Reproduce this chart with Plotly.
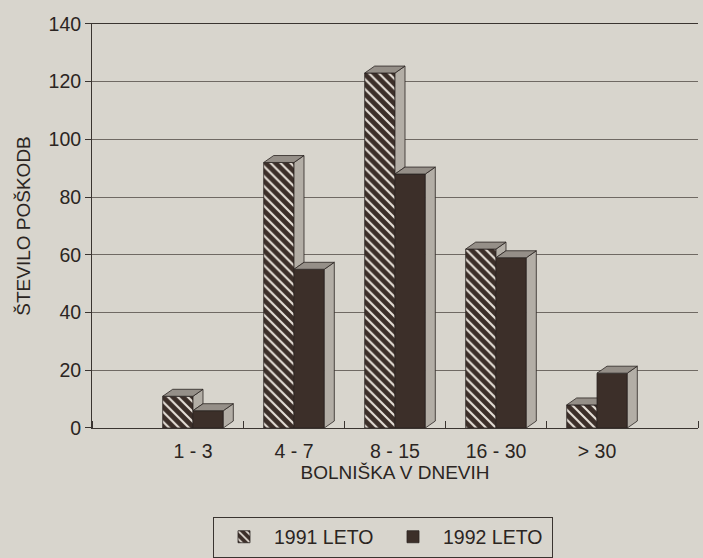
import plotly.graph_objects as go

# ---- data ----
categories = ["1 - 3", "4 - 7", "8 - 15", "16 - 30", "> 30"]
leto_1991 = [11, 92, 123, 62, 8]
leto_1992 = [6, 55, 88, 59, 19]
y_ticks = [0, 20, 40, 60, 80, 100, 120, 140]
series_names = ["1991 LETO", "1992 LETO"]

# ---- style ----
W, H = 703, 558
ML, MR, MT, MB = 92, 0, 13, 128
AREA_W = W - ML - MR
AREA_H = H - MT - MB
FRONT_W = 606          # px width of front x axis
FRONT_H = 406          # px height of front y axis
SHIFT_X = 11           # back wall offset (px)
SHIFT_Y = 7
BG = "#d8d5cd"
INK = "#2b2522"
LINE = "#3a3430"
DARK = "#3c2f29"
HATCH_FG = "#e6e0d8"
SIDE = "#b3aea6"
TOP = "#958f88"
FONT = "Liberation Sans, Arial, sans-serif"
BARGAP = 0.4
BW = (1 - BARGAP) / 2
XR = [-1, 5]
YR = [0, 140]
DX = (XR[1] - XR[0]) * 10 / FRONT_W   # depth in data units
DY = (YR[1] - YR[0]) * 7 / FRONT_H

xs = list(range(len(categories)))

fig = go.Figure()

fig.add_trace(go.Bar(
    x=xs, y=leto_1991, name=series_names[0],
    marker=dict(color=DARK, line=dict(color=INK, width=0.8),
                pattern=dict(shape="\\", bgcolor=DARK, fgcolor=HATCH_FG,
                             size=7, solidity=0.3, fillmode="replace")),
    hoverinfo="skip"))
fig.add_trace(go.Bar(
    x=xs, y=leto_1992, name=series_names[1],
    marker=dict(color=DARK, line=dict(color=INK, width=0.8)),
    hoverinfo="skip"))


def poly(px, py, color):
    fig.add_trace(go.Scatter(
        x=px + [px[0]], y=py + [py[0]], mode="lines", fill="toself",
        fillcolor=color, line=dict(color=INK, width=0.8),
        showlegend=False, hoverinfo="skip"))


for i, c in enumerate(xs):
    v1, v2 = leto_1991[i], leto_1992[i]
    l1, r1 = c - BW, c
    l2, r2 = c, c + BW
    # 1991 side (visible part above the 1992 bar)
    if v1 > v2:
        poly([r1, r1, r1 + DX, r1 + DX], [v2, v1, v1 + DY, v2 + DY], SIDE)
        poly([l1, l1 + DX, r1 + DX, r1], [v1, v1 + DY, v1 + DY, v1], TOP)
    else:
        poly([l1, l1 + DX, r1, r1], [v1, v1 + DY, v1 + DY, v1], TOP)
    # 1992 side and top
    poly([r2, r2, r2 + DX, r2 + DX], [0, v2, v2 + DY, DY], SIDE)
    poly([l2, l2 + DX, r2 + DX, r2], [v2, v2 + DY, v2 + DY, v2], TOP)

# back wall axes (gridlines)
fig.add_trace(go.Scatter(x=[None], y=[None], xaxis="x2", yaxis="y2",
                         showlegend=False, hoverinfo="skip"))

fig.update_layout(
    width=W, height=H,
    margin=dict(l=ML, r=MR, t=MT, b=MB, pad=0),
    paper_bgcolor=BG, plot_bgcolor="rgba(0,0,0,0)",
    font=dict(family=FONT, size=19.5, color=INK),
    barmode="group", bargap=BARGAP, bargroupgap=0,
    showlegend=True,
    legend=dict(orientation="h", x=(213 - ML) / AREA_W, xanchor="left",
                y=(MT + AREA_H - 519) / AREA_H, yanchor="top",
                bordercolor=LINE, borderwidth=1, bgcolor="rgba(0,0,0,0)",
                font=dict(size=19.5, color=INK), itemwidth=50,
                entrywidth=104, traceorder="normal"),
    xaxis=dict(domain=[0, FRONT_W / AREA_W], range=XR, anchor="y",
               tickmode="array", tickvals=xs, ticktext=categories,
               ticks="", showline=True, linecolor=LINE, linewidth=1,
               showgrid=False, zeroline=False, ticklabelstandoff=6,
               tickfont=dict(size=19.5),
               minor=dict(tickmode="array", tickvals=[-1, 0.5, 1.5, 2.5, 3.5, 5],
                          ticks="inside", ticklen=7, tickcolor=LINE,
                          showgrid=False),
               title=dict(text="BOLNIŠKA V DNEVIH", standoff=2,
                          font=dict(size=19))),
    yaxis=dict(domain=[0, FRONT_H / AREA_H], range=YR, anchor="x",
               tickmode="array", tickvals=y_ticks,
               ticks="outside", ticklen=6, tickcolor=LINE,
               showline=True, linecolor=LINE, linewidth=1,
               showgrid=False, zeroline=False, tickfont=dict(size=19.5),
               title=dict(text="ŠTEVILO POŠKODB", standoff=12,
                          font=dict(size=19))),
    xaxis2=dict(domain=[SHIFT_X / AREA_W, 1], range=XR, anchor="y2",
                overlaying="x", showline=True, mirror=True,
                linecolor=LINE, linewidth=1, showgrid=False,
                zeroline=False, showticklabels=False, ticks=""),
    yaxis2=dict(domain=[SHIFT_Y / AREA_H, (SHIFT_Y + FRONT_H) / AREA_H],
                range=YR, anchor="x2", overlaying="y",
                tickmode="array", tickvals=y_ticks,
                showline=True, linecolor=LINE, linewidth=1,
                showgrid=True, gridcolor="#6f6963", gridwidth=1,
                zeroline=False, showticklabels=False, ticks="",
                layer="below traces"),
)

fig.write_html("out.html",
               config={"displayModeBar": False},
               post_script="document.body.style.margin='0';"
                           "document.body.style.overflow='hidden';")
